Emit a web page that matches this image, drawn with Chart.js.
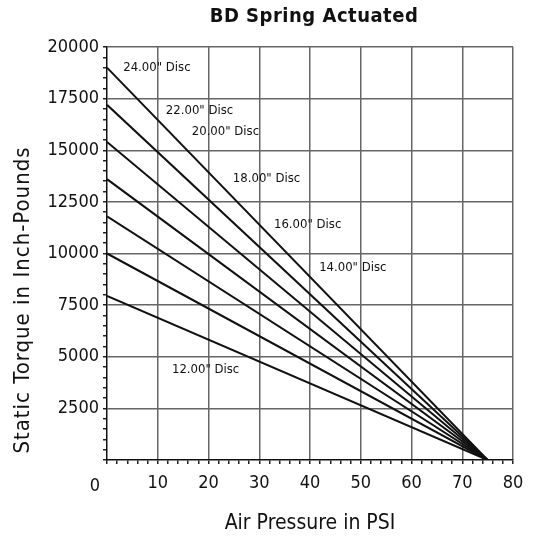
<!DOCTYPE html>
<html>
<head>
<meta charset="utf-8">
<script src="https://cdn.jsdelivr.net/npm/chart.js@4.4.1/dist/chart.umd.min.js"></script>
<style>
html, body { margin: 0; padding: 0; background: #fff; }
#wrap { width: 533px; height: 536px; }
</style>
</head>
<body>
<div id="wrap"><canvas id="spring-chart"></canvas></div>
<script>
// series: one straight line per disc, torque at 0 psi down to 0 at 75 psi
const discNames = ['24.00" Disc', '22.00" Disc', '20.00" Disc', '18.00" Disc', '16.00" Disc', '14.00" Disc', '12.00" Disc'];
const torqueAtZero = [19000, 17200, 15400, 13600, 11800, 10000, 7950];
const pressureEnds = [0, 75];

// tick labels
const xTickLabels = [10, 20, 30, 40, 50, 60, 70, 80];
const yTickLabels = [2500, 5000, 7500, 10000, 12500, 15000, 17500, 20000];

// where the disc names sit (in psi / inch-pounds)
const nameAtX = [3.2, 11.6, 16.7, 24.8, 32.9, 41.8, 12.8];
const nameAtY = [18980, 16900, 15880, 13610, 11420, 9300, 4360];

const FONT = '"Liberation Sans Narrow", "DejaVu Sans Condensed", sans-serif';

const datasets = discNames.map((name, i) => ({
    label: name,
    data: [
        { x: pressureEnds[0], y: torqueAtZero[i] },
        { x: pressureEnds[1], y: 0 }
    ],
    borderColor: '#111',
    borderWidth: 2,
    pointRadius: 0,
    showLine: true,
    fill: false
}));

// texts drawn on top: title, y title, disc names, the lone "0"
const textPlugin = {
    id: 'texts',
    afterDraw(chart) {
        const ctx = chart.ctx;
        const xs = chart.scales.x;
        const ys = chart.scales.y;
        const area = chart.chartArea;
        ctx.save();
        ctx.fillStyle = '#111';
        ctx.textBaseline = 'middle';

        // title
        ctx.font = 'bold 20px ' + FONT;
        ctx.letterSpacing = '0.5px';
        ctx.textAlign = 'center';
        ctx.fillText('BD Spring Actuated', (area.left + area.right) / 2 + 4, 17);

        // y axis title (sits lower than the plot middle in the original)
        ctx.save();
        ctx.translate(23, 300);
        ctx.rotate(-Math.PI / 2);
        ctx.font = '22px ' + FONT;
        ctx.letterSpacing = '1px';
        ctx.fillText('Static Torque in Inch-Pounds', 0, 0);
        ctx.restore();
        ctx.letterSpacing = '0px';

        // disc names
        ctx.font = '13px ' + FONT;
        ctx.textAlign = 'left';
        discNames.forEach((name, i) => {
            ctx.fillText(name, xs.getPixelForValue(nameAtX[i]), ys.getPixelForValue(nameAtY[i]));
        });

        // origin label
        ctx.font = '18px ' + FONT;
        ctx.textAlign = 'center';
        ctx.fillText('0', xs.getPixelForValue(0) - 12, ys.getPixelForValue(0) + 26);
        ctx.restore();
    }
};

const ctx = document.getElementById('spring-chart').getContext('2d');
new Chart(ctx, {
    type: 'scatter',
    data: { datasets: datasets },
    plugins: [textPlugin],
    options: {
        responsive: true,
        maintainAspectRatio: false,
        animation: false,
        layout: { padding: { top: 47, right: 20, left: 0, bottom: 0 } },
        plugins: {
            legend: { display: false },
            tooltip: { enabled: false },
            title: { display: false }
        },
        scales: {
            x: {
                type: 'linear',
                min: 0,
                max: 80,
                afterBuildTicks(scale) {
                    const t = [];
                    for (let v = 0; v <= 80; v += 2) t.push({ value: v });
                    scale.ticks = t;
                },
                afterFit(scale) { scale.height = 76; },
                ticks: {
                    autoSkip: false,
                    maxRotation: 0,
                    padding: 9,
                    color: '#111',
                    font: { family: FONT, size: 18 },
                    callback: v => xTickLabels.includes(v) ? String(v) : ''
                },
                grid: {
                    color: c => (c.tick && c.tick.value % 10 === 0 && c.tick.value > 0) ? '#666' : 'transparent',
                    lineWidth: 1.5,
                    tickColor: '#222',
                    tickLength: 4
                },
                border: { color: '#111', width: 1.5 },
                title: {
                    display: true,
                    text: 'Air Pressure in PSI',
                    color: '#111',
                    font: { family: FONT, size: 21 },
                    padding: { top: 2, bottom: 0 }
                }
            },
            y: {
                type: 'linear',
                min: 0,
                max: 20000,
                afterBuildTicks(scale) {
                    const t = [];
                    for (let v = 0; v <= 20000; v += 500) t.push({ value: v });
                    scale.ticks = t;
                },
                afterFit(scale) { scale.width = 107; },
                ticks: {
                    autoSkip: false,
                    padding: 4,
                    color: '#111',
                    font: { family: FONT, size: 18 },
                    callback: v => yTickLabels.includes(v) ? String(v) : ''
                },
                grid: {
                    color: c => (c.tick && c.tick.value % 2500 === 0 && c.tick.value > 0) ? '#666' : 'transparent',
                    lineWidth: 1.5,
                    tickColor: '#222',
                    tickLength: 4
                },
                border: { color: '#111', width: 1.5 }
            }
        }
    }
});
</script>
</body>
</html>
